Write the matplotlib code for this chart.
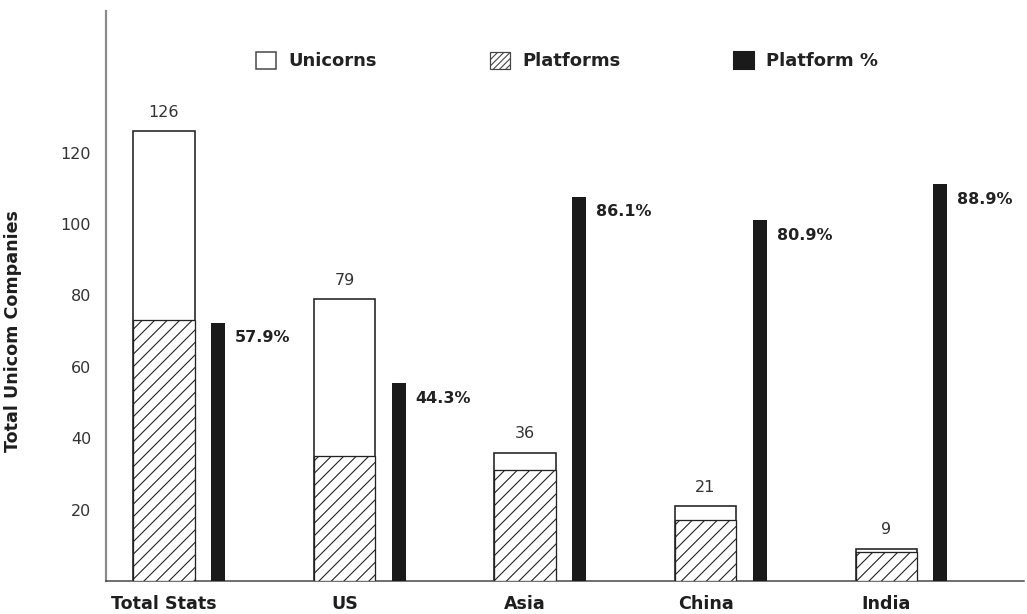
import numpy as np
import matplotlib
matplotlib.use("Agg")
import matplotlib.pyplot as plt
from matplotlib.patches import Patch

# ---- data -------------------------------------------------------------
regions = ["Total Stats", "US", "Asia", "China", "India"]
unicorns = [126, 79, 36, 21, 9]
platforms = [73, 35, 31, 17, 8]
platform_pct = [57.9, 44.3, 86.1, 80.9, 88.9]
ytick_values = [20, 40, 60, 80, 100, 120]

# ---- sizing helpers -----------------------------------------------------
DPI = 150
W, H = 1027, 614


def px(v):
    """Convert a size in pixels to points for this figure's dpi."""
    return v * 72.0 / DPI


plt.rcParams["font.family"] = ["DejaVu Sans"]
plt.rcParams["hatch.linewidth"] = px(1.1)
plt.rcParams["hatch.color"] = "#222222"

fig = plt.figure(figsize=(W / DPI, H / DPI), dpi=DPI)
ax = fig.add_axes([106 / W, 1 - 581 / H, 918 / W, 570 / H])
ax.set_xlim(-0.3213, 4.7645)
ax.set_ylim(0, 159.7)

x = np.arange(len(regions))
uni_w = 0.338
pct_off = 0.30
pct_w = 0.078

# unicorn totals (open bars) with the platform share hatched inside
ax.bar(x, unicorns, width=uni_w, color="white", edgecolor="#222222",
       linewidth=px(1.6), zorder=2)
ax.bar(x, platforms, width=uni_w, color="white", edgecolor="#222222",
       hatch="////", linewidth=px(1.3), zorder=3)

for xi, u in zip(x, unicorns):
    ax.annotate(str(u), (xi, u), xytext=(0, px(19)), textcoords="offset points",
                ha="center", va="center", fontsize=px(16), color="#333333")

# platform percentage on its own scale (100 % = 125 units)
ax2 = ax.twinx()
ax2.set_ylim(0, 159.7 / 1.25)
ax2.bar(x + pct_off, platform_pct, width=pct_w, color="#1a1a1a", zorder=3)
ax2.axis("off")
for xi, p in zip(x, platform_pct):
    ax2.annotate(f"{p:.1f}%", (xi + pct_off + pct_w / 2, p),
                 xytext=(px(10), px(-15)), textcoords="offset points",
                 ha="left", va="center", fontsize=px(16), fontweight="bold",
                 color="#222222")

# ---- axes styling -------------------------------------------------------
for side in ("top", "right"):
    ax.spines[side].set_visible(False)
ax.spines["left"].set_color("#8a8a8a")
ax.spines["left"].set_linewidth(px(2.2))
ax.spines["bottom"].set_color("#444444")
ax.spines["bottom"].set_linewidth(px(1.5))

ax.set_yticks(ytick_values)
ax.tick_params(axis="y", length=0, pad=px(15), labelsize=px(16),
               labelcolor="#333333")
ax.set_xticks(x)
ax.set_xticklabels(regions, fontweight="bold")
ax.tick_params(axis="x", length=0, pad=px(14), labelsize=px(17.5),
               labelcolor="#1e1e1e")

ax.set_ylabel("Total Unicom Companies", fontsize=px(17.5), fontweight="bold",
              color="#1e1e1e")
ax.yaxis.set_label_coords(-84 / 918, 250 / 570)

# ---- legend -------------------------------------------------------------
handles = [
    Patch(facecolor="white", edgecolor="#444444", linewidth=px(1.5),
          label="Unicorns"),
    Patch(facecolor="white", edgecolor="#444444", hatch="////////",
          linewidth=px(1.2), label="Platforms"),
    Patch(facecolor="#1a1a1a", edgecolor="#1a1a1a", label="Platform %"),
]
leg = fig.legend(handles=handles, loc="center",
                 bbox_to_anchor=(567 / W, 1 - 61 / H), ncol=3, frameon=False,
                 prop={"weight": "bold", "size": px(18)},
                 handlelength=1.1, handleheight=1.1, handletextpad=0.67,
                 columnspacing=6.3)
for t in leg.get_texts():
    t.set_color("#222222")

fig.savefig("out.png", dpi=DPI, facecolor="white")
